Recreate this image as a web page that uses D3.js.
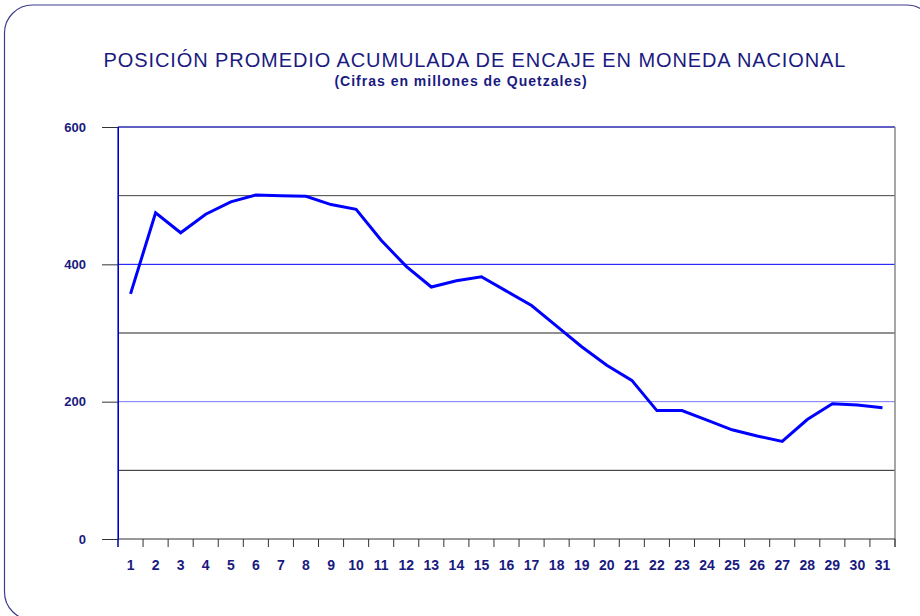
<!DOCTYPE html>
<html>
<head>
<meta charset="utf-8">
<script src="https://cdn.jsdelivr.net/npm/d3@7"></script>
<style>
  body { margin: 0; background: #fff; }
  svg { display: block; font-family: "Liberation Sans", Arial, sans-serif; }
</style>
</head>
<body>
<svg id="chart" width="920" height="616"></svg>
<script>
var days = d3.range(1, 32);
var encaje = [357, 475, 446, 473, 491, 501, 500, 499, 487, 480, 435, 397, 367, 376, 382,
              361, 340, 310, 280, 253, 231, 187, 187, 173, 159, 150, 142, 174, 197, 195, 191];
var yTicks = [0, 200, 400, 600];
var gridValues = [100, 200, 300, 400, 500, 600];

var svg = d3.select("#chart");
var navy = "#1a1a80";

// rounded frame
svg.append("rect")
  .attr("x", 4.5).attr("y", 5)
  .attr("width", 930).attr("height", 615)
  .attr("rx", 28).attr("ry", 28)
  .attr("fill", "none")
  .attr("stroke", "#3c3c8c")
  .attr("stroke-width", 1.2);

var margin = { left: 118, right: 895, top: 127, bottom: 539 };

var x = d3.scaleBand().domain(days).range([margin.left, margin.right]);
var y = d3.scaleLinear().domain([0, 600]).range([margin.bottom, margin.top]);

// titles
svg.append("text")
  .attr("x", 475).attr("y", 67)
  .attr("text-anchor", "middle")
  .attr("fill", navy)
  .style("font-size", "20px")
  .style("letter-spacing", "0.9px")
  .text("POSICIÓN PROMEDIO ACUMULADA DE ENCAJE EN MONEDA NACIONAL");

svg.append("text")
  .attr("x", 461).attr("y", 86)
  .attr("text-anchor", "middle")
  .attr("fill", navy)
  .style("font-size", "14px")
  .style("font-weight", "bold")
  .style("letter-spacing", "1px")
  .text("(Cifras en millones de Quetzales)");

// gridlines
var gridColor = { 100: "#222", 200: "#7777ff", 300: "#222", 400: "#0000ff", 500: "#444", 600: "#2a2ab0" };
svg.append("g").selectAll("line")
  .data(gridValues)
  .join("line")
  .attr("x1", margin.left).attr("x2", margin.right)
  .attr("y1", d => y(d)).attr("y2", d => y(d))
  .attr("stroke", d => gridColor[d])
  .attr("stroke-width", d => d === 600 ? 1.5 : 1);

// right border
svg.append("line")
  .attr("x1", margin.right).attr("x2", margin.right)
  .attr("y1", margin.top).attr("y2", margin.bottom + 8)
  .attr("stroke", "#888").attr("stroke-width", 1.5);

// y axis
var yAxis = svg.append("g")
  .attr("transform", "translate(" + margin.left + ",0)")
  .call(d3.axisLeft(y).tickValues(yTicks).tickSize(16).tickPadding(16));
yAxis.select(".domain").attr("stroke", "#0000cc");
yAxis.selectAll(".tick line").attr("stroke", "#333");
yAxis.selectAll("text")
  .attr("fill", navy)
  .style("font-size", "13px")
  .style("font-weight", "bold");

// x axis
var xAxis = svg.append("g")
  .attr("transform", "translate(0," + margin.bottom + ")")
  .call(d3.axisBottom(x).tickSize(0).tickPadding(21));
xAxis.select(".domain").attr("stroke", "#333").attr("d", "M" + margin.left + ",0H" + margin.right);
xAxis.selectAll("text")
  .attr("fill", navy)
  .style("font-size", "14px")
  .style("font-weight", "bold");

// tick marks between categories
var edges = days.map(d => x(d)).concat([margin.right]);
svg.append("g").selectAll("line")
  .data(edges)
  .join("line")
  .attr("x1", d => d).attr("x2", d => d)
  .attr("y1", margin.bottom).attr("y2", margin.bottom + 8)
  .attr("stroke", "#333");

// re-draw left axis line over the gridlines
svg.append("line")
  .attr("x1", margin.left).attr("x2", margin.left)
  .attr("y1", margin.top).attr("y2", margin.bottom + 8)
  .attr("stroke", "#0000cc").attr("stroke-width", 1.2);

// series
var line = d3.line()
  .x((d, i) => x(days[i]) + x.bandwidth() / 2)
  .y(d => y(d));

svg.append("path")
  .datum(encaje)
  .attr("d", line)
  .attr("fill", "none")
  .attr("stroke", "#0000ff")
  .attr("stroke-width", 3);
</script>
</body>
</html>
